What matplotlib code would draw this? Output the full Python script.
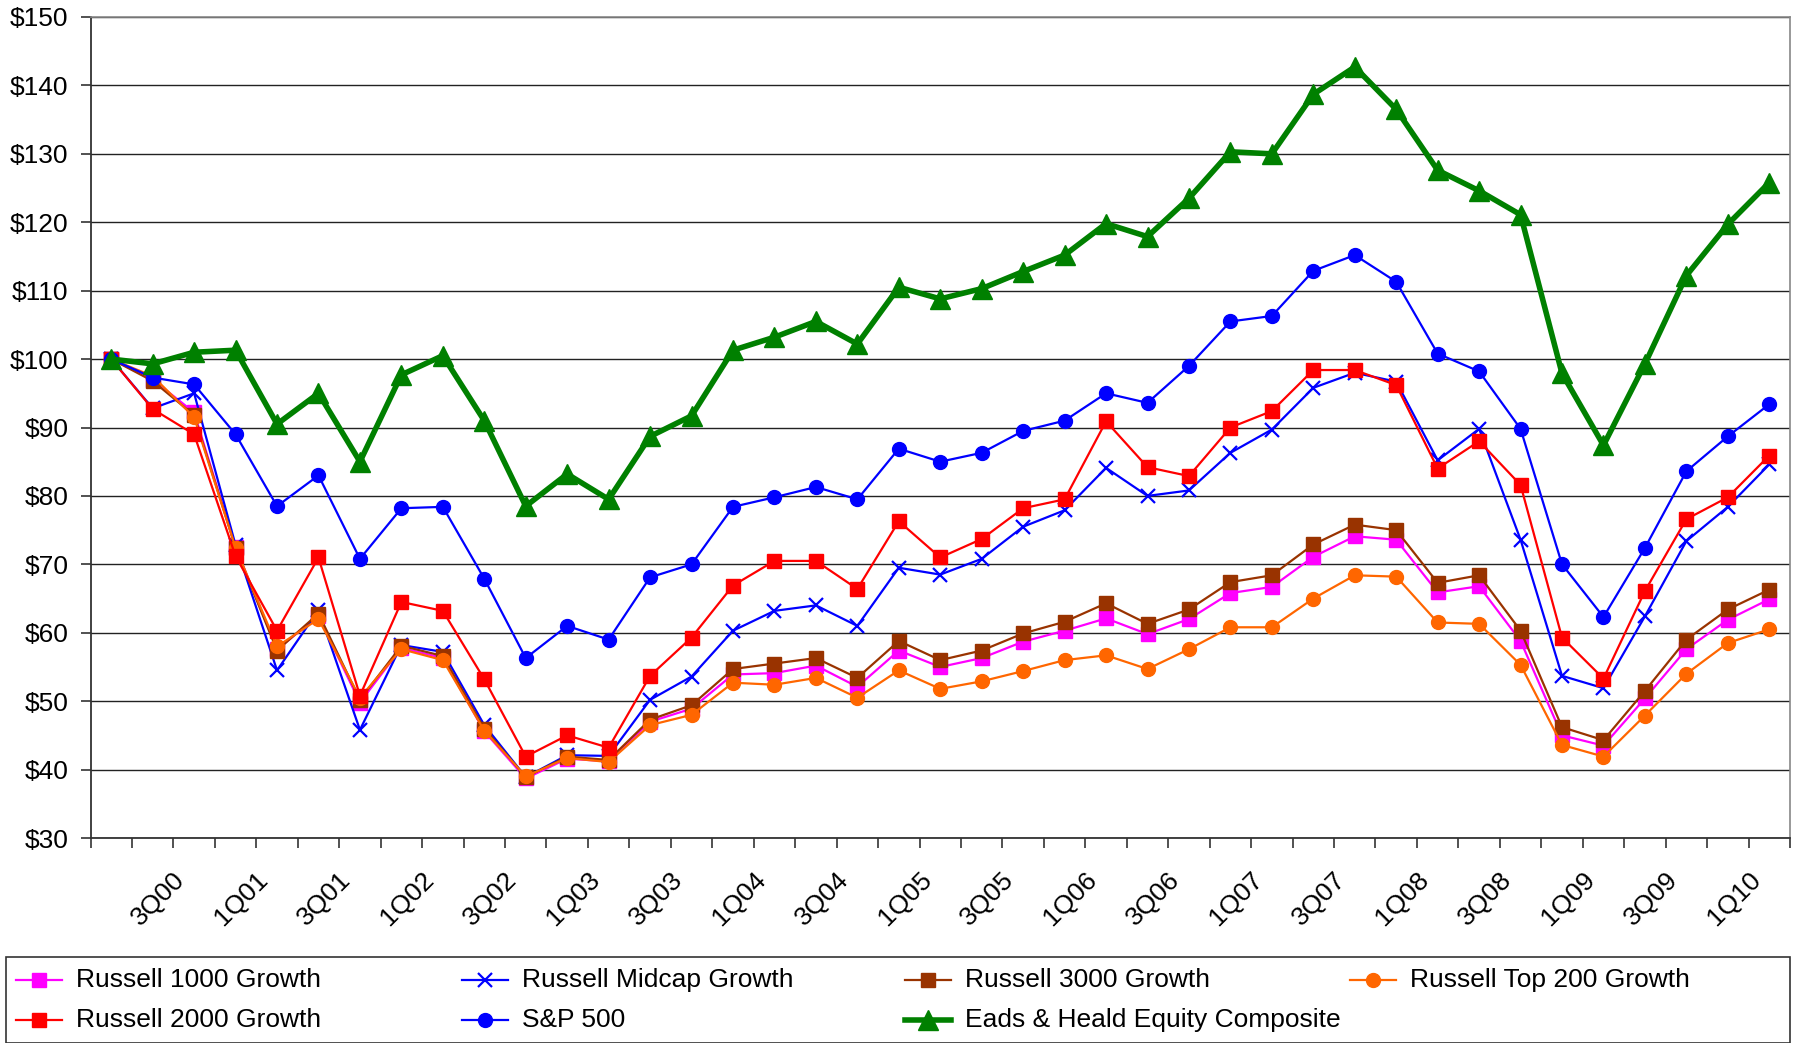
import matplotlib
matplotlib.use("Agg")
import matplotlib.pyplot as plt
from matplotlib.lines import Line2D
from matplotlib.patches import Rectangle
from matplotlib.transforms import ScaledTranslation
import numpy as np

plt.rcParams['font.family'] = ['Liberation Sans', 'DejaVu Sans']

quarters = ["2Q00", "3Q00", "4Q00", "1Q01", "2Q01", "3Q01", "4Q01", "1Q02", "2Q02", "3Q02",
            "4Q02", "1Q03", "2Q03", "3Q03", "4Q03", "1Q04", "2Q04", "3Q04", "4Q04", "1Q05",
            "2Q05", "3Q05", "4Q05", "1Q06", "2Q06", "3Q06", "4Q06", "1Q07", "2Q07", "3Q07",
            "4Q07", "1Q08", "2Q08", "3Q08", "4Q08", "1Q09", "2Q09", "3Q09", "4Q09", "1Q10", "2Q10"]

russell_1000_growth = [100, 97, 92.2, 72.5, 57.6, 62.4, 49.8, 57.8, 56.3, 45.6,
                       38.7, 41.6, 41.2, 47, 48.9, 53.9, 54.1, 55.2, 52.1, 57.4,
                       55, 56.3, 58.7, 60.3, 62.1, 59.8, 62, 65.8, 66.7, 71.1,
                       74.1, 73.6, 65.9, 66.8, 58.8, 45, 43.5, 50.4, 57.6, 61.9, 64.9]
russell_midcap_growth = [100, 92.8, 95, 72.8, 54.5, 63.3, 45.8, 58.2, 57.2, 46.5,
                         38.9, 42.1, 42, 50.2, 53.6, 60.3, 63.2, 64, 61, 69.5,
                         68.5, 70.8, 75.5, 77.9, 84.1, 80, 80.8, 86.3, 89.7, 95.8,
                         98, 96.7, 85.2, 89.8, 73.6, 53.7, 51.9, 62.4, 73.4, 78.4, 84.6]
russell_3000_growth = [100, 96.8, 91.8, 72.4, 57.4, 62.8, 50.2, 58.1, 56.6, 46,
                       38.9, 41.9, 41.4, 47.3, 49.4, 54.7, 55.5, 56.3, 53.4, 58.8,
                       56, 57.4, 59.9, 61.6, 64.3, 61.3, 63.4, 67.4, 68.4, 72.9,
                       75.8, 75, 67.3, 68.4, 60.3, 46.2, 44.3, 51.5, 59, 63.4, 66.3]
russell_top200_growth = [100, 97.5, 91.5, 72.4, 58, 62, 50.5, 57.6, 56, 45.7,
                         39, 41.7, 41.1, 46.5, 48, 52.7, 52.4, 53.4, 50.5, 54.5,
                         51.8, 52.9, 54.4, 56, 56.7, 54.7, 57.6, 60.8, 60.8, 65,
                         68.4, 68.2, 61.5, 61.3, 55.3, 43.6, 41.9, 47.9, 54, 58.5, 60.5]
russell_2000_growth = [100, 92.7, 89, 71.2, 60.3, 71, 50.8, 64.5, 63.2, 53.2,
                       41.9, 45, 43.2, 53.7, 59.3, 66.9, 70.5, 70.5, 66.4, 76.3,
                       71, 73.7, 78.2, 79.5, 90.9, 84.2, 82.9, 90, 92.4, 98.4,
                       98.4, 96.2, 84, 88, 81.6, 59.3, 53.3, 66.1, 76.6, 79.8, 85.9]
sp500 = [100, 97.3, 96.3, 89, 78.5, 83, 70.8, 78.2, 78.4, 67.9,
         56.3, 61, 59, 68.1, 70, 78.4, 79.8, 81.3, 79.5, 86.9,
         85, 86.3, 89.5, 91, 95, 93.6, 99, 105.5, 106.3, 112.9,
         115.2, 111.3, 100.8, 98.2, 89.8, 70, 62.3, 72.4, 83.6, 88.7, 93.4]
eads_heald = [100, 99.3, 101, 101.3, 90.5, 95, 85, 97.7, 100.5, 91,
              78.5, 83.2, 79.5, 88.7, 91.7, 101.3, 103.2, 105.5, 102.2, 110.5,
              108.8, 110.3, 112.8, 115.2, 119.8, 117.9, 123.5, 130.3, 130, 138.7,
              142.7, 136.5, 127.6, 124.6, 121.1, 97.9, 87.4, 99.3, 112.2, 119.7, 125.8]

y_ticks = [30, 40, 50, 60, 70, 80, 90, 100, 110, 120, 130, 140, 150]

series = [
    ("Russell 1000 Growth", russell_1000_growth, dict(color="#FF00FF", marker="s", ms=10, lw=1.6)),
    ("Russell Midcap Growth", russell_midcap_growth, dict(color="#0000FF", marker="x", ms=10, mew=1.6, lw=1.6)),
    ("Russell 3000 Growth", russell_3000_growth, dict(color="#993300", marker="s", ms=10, lw=1.6)),
    ("Russell Top 200 Growth", russell_top200_growth, dict(color="#FF6600", marker="o", ms=10, lw=1.6)),
    ("Russell 2000 Growth", russell_2000_growth, dict(color="#FF0000", marker="s", ms=10, lw=1.6)),
    ("S&P 500", sp500, dict(color="#0000FF", marker="o", ms=10, lw=1.6)),
    ("Eads & Heald Equity Composite", eads_heald, dict(color="#008000", marker="^", ms=15, lw=4.0)),
]

W, H = 1797, 1043
fig = plt.figure(figsize=(W / 100, H / 100), dpi=100)
ax = fig.add_axes([90.5 / W, 1 - 838 / H, (1790 - 90.5) / W, (838 - 17) / H])

x = np.arange(len(quarters))
for name, vals, st in series:
    ax.plot(x, vals, label=name, mec=st["color"], **st)

ax.set_xlim(-0.5, len(quarters) - 0.5)
ax.set_ylim(30, 150)
ax.set_yticks(y_ticks)
ax.set_yticklabels([f"${v}" for v in y_ticks], fontsize=19)
ax.yaxis.grid(True, color="#222222", lw=1)
ax.set_axisbelow(True)

ax.set_xticks(np.arange(len(quarters) + 1) - 0.5)
ax.set_xticklabels([])
ax.set_xticks(x[1::2], minor=True)
ax.set_xticklabels(quarters[1::2], minor=True, rotation=45, ha="center", va="center",
                   fontsize=19, rotation_mode="anchor")
ax.tick_params(axis="x", which="major", length=7, width=1.2, color="#333333", direction="out")
ax.tick_params(axis="x", which="minor", length=0, pad=44)
ax.tick_params(axis="y", length=7, width=1.2, color="#333333", pad=9)
shift = ScaledTranslation(6 / 100, 0, fig.dpi_scale_trans)
for lbl in ax.get_xticklabels(minor=True):
    lbl.set_transform(lbl.get_transform() + shift)

for s in ["left", "bottom"]:
    ax.spines[s].set_color("#333333")
    ax.spines[s].set_linewidth(1.3)
for s in ["top", "right"]:
    ax.spines[s].set_color("#888888")
    ax.spines[s].set_linewidth(1.2)

# legend box (Excel-style fixed columns)
box = Rectangle((6 / W, 0), (1790 - 6) / W, (1043 - 957) / H, transform=fig.transFigure,
                fill=False, edgecolor="#333333", lw=1.2)
fig.add_artist(box)
col_x = [16, 462, 905, 1350]
row_y = [980, 1020]
order = [(0, 0), (1, 0), (2, 0), (3, 0), (0, 1), (1, 1), (2, 1)]
for (name, vals, st), (c, r) in zip(series, order):
    x0 = col_x[c]
    yy = 1 - row_y[r] / H
    lw = st["lw"]
    fig.add_artist(Line2D([x0 / W, (x0 + 46) / W], [yy, yy], transform=fig.transFigure,
                          color=st["color"], lw=lw))
    fig.add_artist(Line2D([(x0 + 23) / W], [yy], transform=fig.transFigure, color=st["color"],
                          marker=st["marker"], ms=st["ms"], mew=st.get("mew", 1), mec=st["color"],
                          lw=0))
    fig.text((x0 + 60) / W, yy, name, fontsize=19, va="center", ha="left")

fig.savefig("out.png", dpi=100)
